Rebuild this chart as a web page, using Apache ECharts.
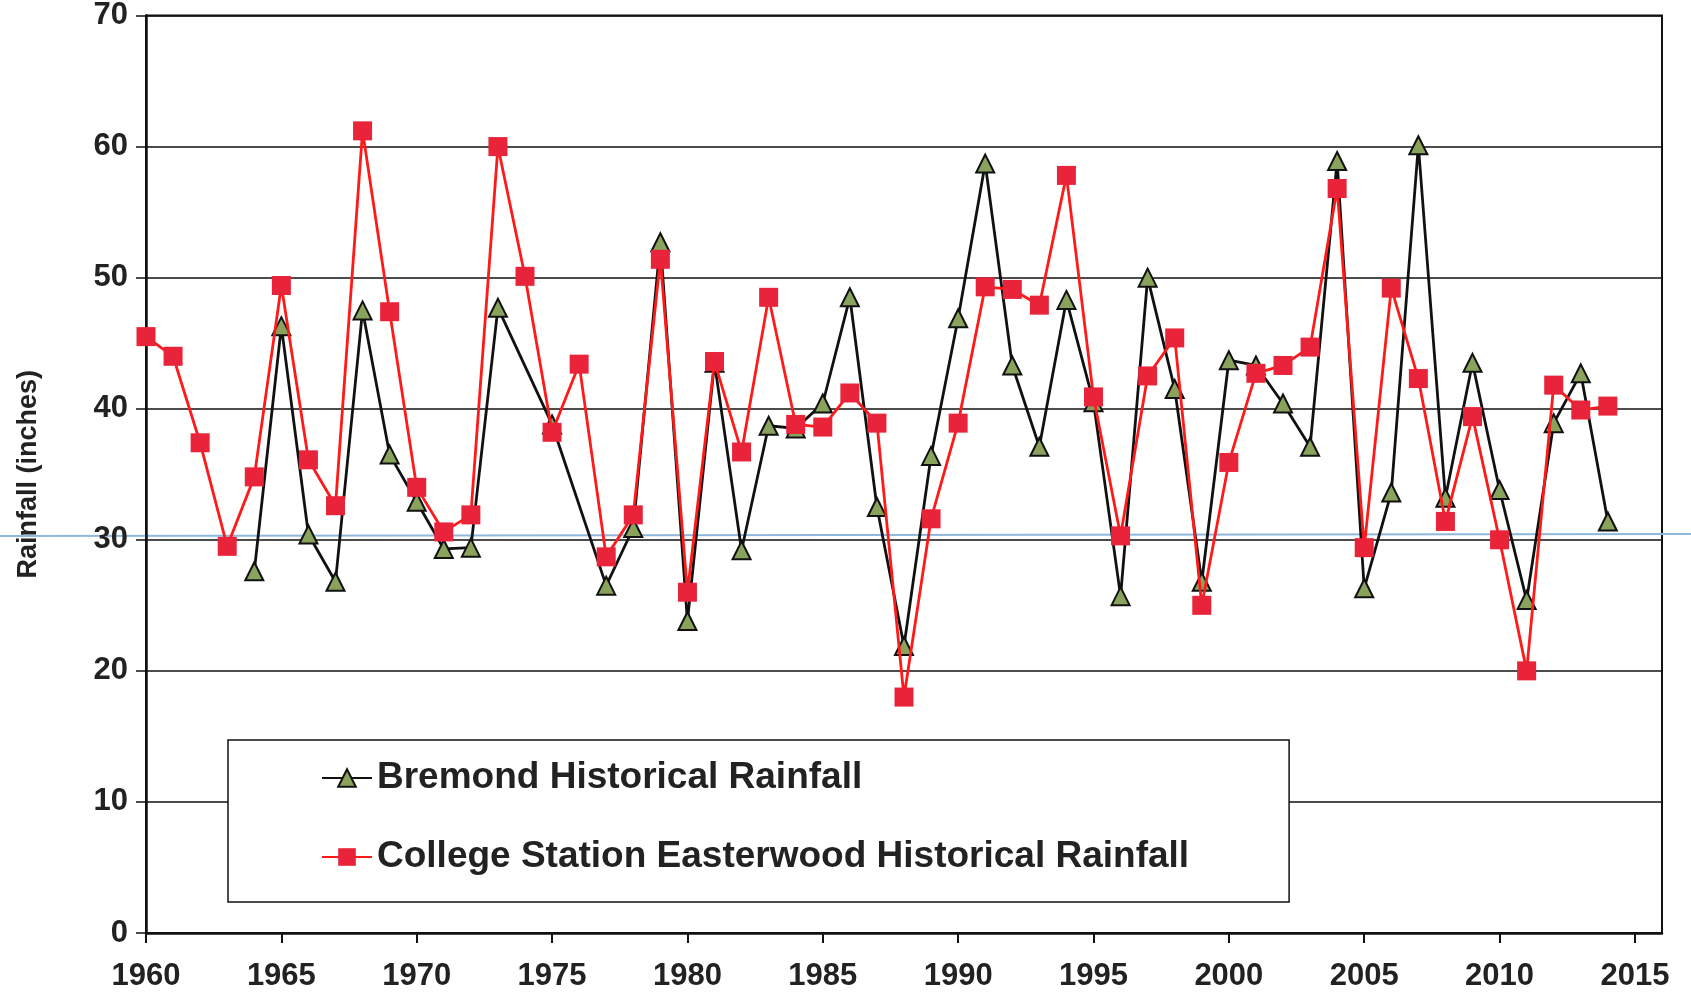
<!DOCTYPE html>
<html>
<head>
<meta charset="utf-8">
<script src="https://cdn.jsdelivr.net/npm/echarts@6/dist/echarts.min.js"></script>
<style>
html,body{margin:0;padding:0;background:#fff;}
#chart{width:1691px;height:1003px;}
</style>
</head>
<body>
<div id="chart"></div>
<script>
var years = [];
for (var y = 1960; y <= 2014; y++) years.push(y);

var bremond = [
  null, null, null, null, 27.6, 46.3, 30.4, 26.8, 47.5, 36.5,
  32.9, 29.3, 29.4, 47.7, null, 38.8, null, 26.5, 30.9, 52.7,
  23.8, 43.5, 29.2, 38.7, 38.5, 40.4, 48.5, 32.5, 21.9, 36.4,
  46.9, 58.7, 43.3, 37.1, 48.3, 40.5, 25.7, 50.0, 41.5, 26.8,
  43.7, 43.3, 40.4, 37.1, 58.9, 26.3, 33.6, 60.1, 33.2, 43.5,
  33.8, 25.4, 38.9, 42.7, 31.4
];

var collegeStation = [
  45.5, 44.0, 37.4, 29.5, 34.8, 49.4, 36.1, 32.6, 61.2, 47.4,
  34.0, 30.6, 31.9, 60.0, 50.1, 38.2, 43.4, 28.7, 31.9, 51.4,
  26.0, 43.6, 36.7, 48.5, 38.8, 38.6, 41.2, 38.9, 18.0, 31.6,
  38.9, 49.3, 49.1, 47.9, 57.8, 40.9, 30.3, 42.5, 45.4, 25.0,
  35.9, 42.7, 43.3, 44.7, 56.8, 29.4, 49.2, 42.3, 31.4, 39.4,
  30.0, 20.0, 41.8, 39.9, 40.2
];

var seriesNames = ['Bremond Historical Rainfall', 'College Station Easterwood Historical Rainfall'];
var yAxisName = 'Rainfall (inches)';

function pairs(vals) {
  return years.map(function (yr, i) { return [yr, vals[i]]; });
}

var font = '"Liberation Sans", Arial, sans-serif';
var chart = echarts.init(document.getElementById('chart'), null, {renderer: 'canvas'});
chart.setOption({
  animation: false,
  backgroundColor: '#ffffff',
  grid: {
    left: 146, right: 29, top: 14, bottom: 70,
    show: true, borderColor: '#111', borderWidth: 2, backgroundColor: 'transparent'
  },
  xAxis: {
    type: 'value', min: 1960, max: 2016, interval: 5,
    axisLine: {show: true, onZero: false, lineStyle: {color: '#111', width: 2.5}},
    axisTick: {show: true, length: 10, lineStyle: {color: '#111', width: 2}},
    splitLine: {show: false},
    axisLabel: {
      showMaxLabel: false, margin: 28, color: '#222',
      fontFamily: font, fontWeight: 'bold', fontSize: 31,
      formatter: function (v) { return String(v); }
    }
  },
  yAxis: {
    type: 'value', min: 0, max: 70, interval: 10,
    name: yAxisName, nameLocation: 'middle', nameGap: 104, nameRotate: 90,
    nameTextStyle: {fontFamily: font, fontWeight: 'bold', fontSize: 27, color: '#222'},
    axisLine: {show: true, lineStyle: {color: '#111', width: 2.5}},
    axisTick: {show: true, length: 10, lineStyle: {color: '#111', width: 1.5}},
    splitLine: {show: true, lineStyle: {color: '#111', width: 1.5}},
    axisLabel: {margin: 18, color: '#222', fontFamily: font, fontWeight: 'bold', fontSize: 31}
  },
  legend: {
    left: 228, top: 740,
    orient: 'vertical',
    backgroundColor: '#fff',
    borderColor: '#111', borderWidth: 1.5, borderRadius: 0,
    padding: [18, 100, 25, 93],
    itemGap: 39,
    itemWidth: 50, itemHeight: 22,
    textStyle: {fontFamily: font, fontWeight: 'bold', fontSize: 37, color: '#222', lineHeight: 40},
    data: seriesNames
  },
  graphic: [{
    type: 'line', silent: true, z: 0,
    shape: {x1: 0, y1: 536, x2: 1691, y2: 534},
    style: {stroke: '#8fb8dc', lineWidth: 2}
  }],
  series: [
    {
      name: seriesNames[0], type: 'line', data: pairs(bremond), connectNulls: true,
      symbol: 'triangle', symbolSize: 18,
      lineStyle: {color: '#111', width: 2.8},
      itemStyle: {color: '#8aa35c', borderColor: '#111', borderWidth: 2},
      z: 3
    },
    {
      name: seriesNames[1], type: 'line', data: pairs(collegeStation), connectNulls: true,
      symbol: 'rect', symbolSize: 19,
      lineStyle: {color: '#ff1a1a', width: 2.8},
      itemStyle: {color: '#e8233a', borderColor: '#e8233a', borderWidth: 0},
      z: 4
    }
  ]
});
</script>
</body>
</html>
